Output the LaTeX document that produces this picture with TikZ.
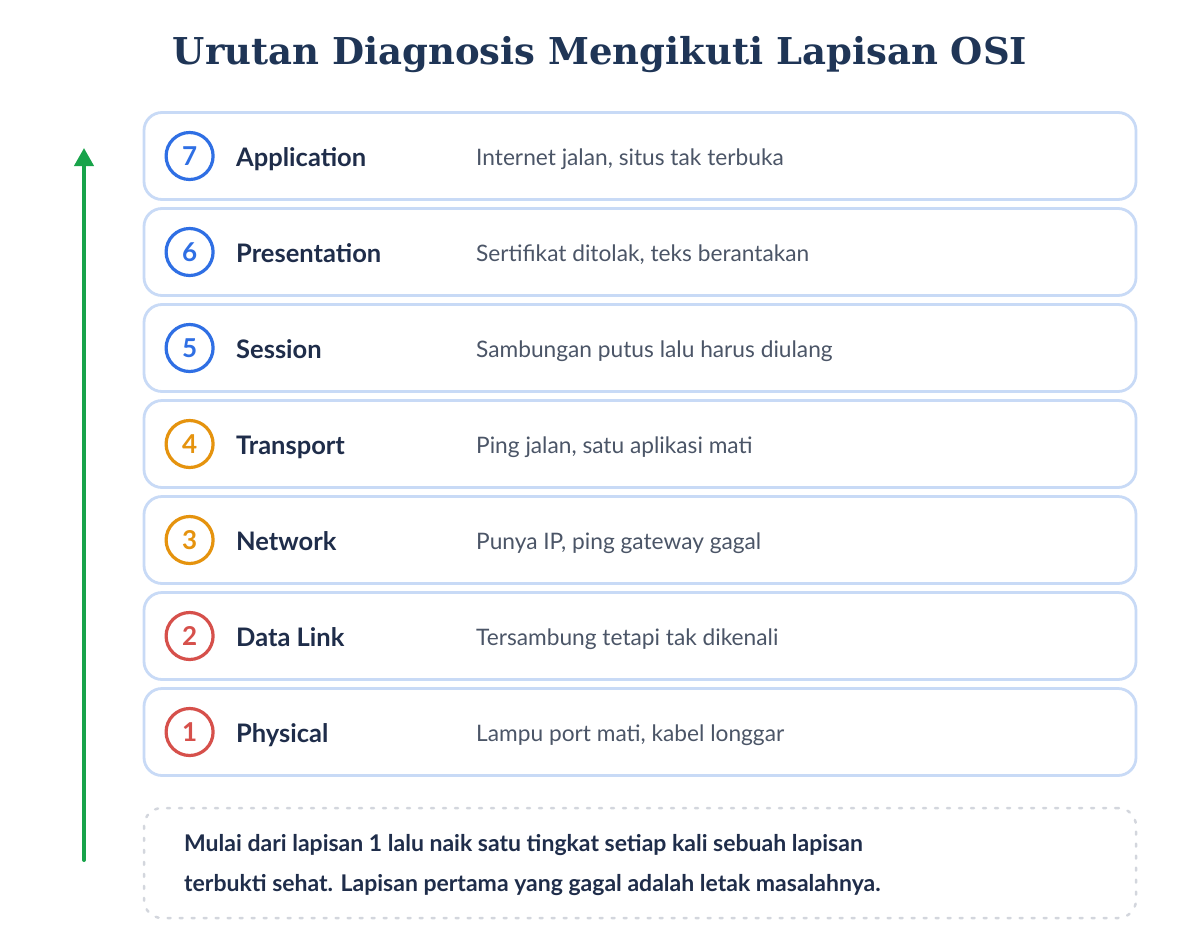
\documentclass[tikz,border=0pt]{standalone}
\usepackage{fontspec}
\setmainfont{Lato}
\newfontfamily\titlefont{DejaVu Serif}
\usetikzlibrary{positioning,arrows.meta}
\definecolor{navy}{HTML}{1F2D4A}
\definecolor{titlenavy}{HTML}{1F3556}
\definecolor{descgray}{HTML}{4B5567}
\definecolor{boxblue}{HTML}{C8DAF6}
\definecolor{layerblue}{HTML}{2F6FE4}
\definecolor{layerorange}{HTML}{E5930E}
\definecolor{layerred}{HTML}{D6504B}
\definecolor{upgreen}{HTML}{18A34A}
\definecolor{notegray}{HTML}{D3D6DD}
\tikzset{
  layerbox/.style={draw=boxblue,line width=2.8pt,rounded corners=18pt,fill=white,minimum width=992pt,minimum height=87pt},
  numcircle/.style={circle,line width=3.2pt,minimum size=47pt,inner sep=0pt,text height=18pt,text depth=0pt,font=\fontsize{26}{26}\selectfont\bfseries},
  layername/.style={inner sep=0pt,text height=18pt,text depth=0pt,text=navy,font=\fontsize{25.5}{25.5}\selectfont\bfseries},
  desctext/.style={inner sep=0pt,text height=16pt,text depth=0pt,text=descgray,font=\fontsize{22.7}{22.7}\selectfont},
}
\begin{document}
\begin{tikzpicture}[x=1pt,y=-1pt,line cap=round,line join=round]
\useasboundingbox (0,0) rectangle (1200,948);
\node[text=titlenavy,font=\titlefont\fontsize{37}{37}\selectfont\bfseries] (title) at (600,55) {Urutan Diagnosis Mengikuti Lapisan OSI};
% lapisan 7 sampai 1
\foreach \n/\name/\desc/\col in {
  7/Application/{Internet jalan, situs tak terbuka}/layerblue,
  6/Presentation/{Sertifikat ditolak, teks berantakan}/layerblue,
  5/Session/{Sambungan putus lalu harus diulang}/layerblue,
  4/Transport/{Ping jalan, satu aplikasi mati}/layerorange,
  3/Network/{Punya IP, ping gateway gagal}/layerorange,
  2/Data Link/{Tersambung tetapi tak dikenali}/layerred,
  1/Physical/{Lampu port mati, kabel longgar}/layerred}{
  \node[layerbox] (box\n) at (640,{156+(7-\n)*96}) {};
  \node[numcircle,draw=\col,text=\col] (num\n) at ([xshift=47pt]box\n.west) {\n};
  \node[layername,anchor=west] (name\n) at (236,{157+(7-\n)*96}) {\name};
  \node[desctext,anchor=west] (desc\n) at (476,{157+(7-\n)*96}) {\desc};
}
% catatan
\node[draw=notegray,line width=2.5pt,dash pattern=on 3pt off 9pt,rounded corners=18pt,minimum width=992pt,minimum height=110pt] (note) at (640,863) {};
\node[anchor=west,align=left,inner sep=0pt,text=navy,font=\fontsize{23}{40}\selectfont\bfseries] (notetext) at (184,865) {Mulai dari lapisan 1 lalu naik satu tingkat setiap kali sebuah lapisan\\terbukti sehat. Lapisan pertama yang gagal adalah letak masalahnya.};
% panah naik
\coordinate (arrowfoot) at (84,860);
\coordinate (arrowtip) at (84,148);
\draw[upgreen,line width=4pt,-{Triangle[length=18pt,width=19pt]}] (arrowfoot) -- (arrowtip);
\end{tikzpicture}
\end{document}
